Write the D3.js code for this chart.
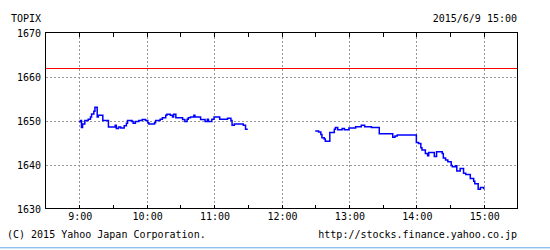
<!DOCTYPE html>
<html>
<head>
<meta charset="utf-8">
<script src="https://cdn.jsdelivr.net/npm/d3@7"></script>
<style>
  html, body { margin: 0; padding: 0; background: #fff; }
  svg text { font-family: "DejaVu Sans Mono", "Liberation Mono", monospace; font-size: 10px; fill: #000; }
</style>
</head>
<body>
<div id="chart"></div>
<script>
// TOPIX intraday, 2015/6/9
const title = 'TOPIX';
const stamp = '2015/6/9 15:00';
const copyright = '(C) 2015 Yahoo Japan Corporation.';
const site = 'http://stocks.finance.yahoo.co.jp';

const prevClose = 1662;

const yTicks = [1630, 1640, 1650, 1660, 1670];
const hourLabels = ['9:00', '10:00', '11:00', '12:00', '13:00', '14:00', '15:00'];
const halfHourTicks = ['8:30', '9:00', '9:30', '10:00', '10:30', '11:00', '11:30', '12:00',
  '12:30', '13:00', '13:30', '14:00', '14:30', '15:00', '15:30'];

// morning session
const amTimes = ['9:00', '9:01', '9:02', '9:03', '9:05', '9:08', '9:10', '9:11', '9:13', '9:14',
  '9:16', '9:17', '9:21', '9:26', '9:32', '9:33', '9:35', '9:37', '9:40', '9:42', '9:43',
  '9:47', '9:48', '9:50', '9:53', '9:56', '9:59', '10:01', '10:02', '10:07', '10:08',
  '10:12', '10:14', '10:17', '10:18', '10:21', '10:23', '10:24', '10:26', '10:32', '10:34',
  '10:36', '10:37', '10:39', '10:42', '10:43', '10:48', '10:52', '10:54', '10:55', '10:58',
  '11:00', '11:05', '11:12', '11:15', '11:16', '11:18', '11:26', '11:28', '11:30'];
const amValues = [1649.7, 1650.0, 1648.4, 1649.2, 1650.0, 1650.3, 1650.8, 1651.5, 1652.1, 1653.0,
  1650.8, 1651.2, 1650.0, 1648.5, 1648.9, 1648.2, 1648.5, 1648.3, 1648.8, 1649.4, 1650.0,
  1649.8, 1649.4, 1649.8, 1650.0, 1650.2, 1650.0, 1649.5, 1649.2, 1649.5, 1650.0,
  1650.3, 1650.6, 1651.2, 1651.4, 1651.2, 1650.8, 1651.4, 1650.6, 1650.2, 1649.8,
  1650.3, 1650.6, 1650.8, 1651.2, 1650.8, 1650.2, 1649.8, 1650.3, 1649.8, 1650.3,
  1650.8, 1650.3, 1650.5, 1650.0, 1648.9, 1649.2, 1648.9, 1648.0, 1648.0];

// afternoon session
const pmTimes = ['12:30', '12:33', '12:35', '12:36', '12:38', '12:39', '12:43', '12:47', '12:48',
  '12:50', '12:54', '12:56', '13:00', '13:06', '13:11', '13:14', '13:20', '13:27', '13:39',
  '13:41', '13:43', '14:00', '14:02', '14:04', '14:05', '14:08', '14:10', '14:11', '14:16',
  '14:18', '14:23', '14:24', '14:26', '14:28', '14:31', '14:32', '14:35', '14:36', '14:39',
  '14:42', '14:44', '14:48', '14:51', '14:52', '14:55', '14:57', '14:59', '15:00'];
const pmValues = [1647.6, 1647.4, 1646.8, 1646.1, 1645.8, 1645.3, 1647.3, 1648.0, 1648.4,
  1647.9, 1648.2, 1647.9, 1648.3, 1648.6, 1648.9, 1648.6, 1648.4, 1647.0, 1646.2,
  1646.5, 1646.7, 1645.0, 1644.8, 1643.8, 1643.3, 1642.5, 1642.0, 1642.7, 1641.8,
  1642.9, 1642.5, 1641.5, 1641.0, 1640.6, 1639.8, 1639.5, 1639.7, 1638.5, 1639.1,
  1638.0, 1637.7, 1636.8, 1636.2, 1635.6, 1634.4, 1634.8, 1634.8, 1634.4];

const W = 550, H = 250;
const plotL = 45.5, plotR = 517.5, plotT = 32.5, plotB = 208.5;

const toMin = s => {
  const p = s.split(':');
  return +p[0] * 60 + +p[1];
};

const x = d3.scaleLinear().domain([toMin('8:30'), toMin('15:30')]).range([plotL, plotR]);
const y = d3.scaleLinear().domain([1630, 1670]).range([plotB, plotT]);

const svg = d3.select('#chart').append('svg')
  .attr('width', W)
  .attr('height', H);

// grid
const grid = svg.append('g')
  .attr('stroke', '#999')
  .attr('stroke-dasharray', '2,2')
  .attr('shape-rendering', 'crispEdges');

grid.selectAll('.vg')
  .data(hourLabels)
  .enter()
  .append('line')
  .attr('x1', d => Math.round(x(toMin(d))) + 0.5)
  .attr('x2', d => Math.round(x(toMin(d))) + 0.5)
  .attr('y1', plotT)
  .attr('y2', plotB);

grid.selectAll('.hg')
  .data(yTicks.slice(1, -1))
  .enter()
  .append('line')
  .attr('x1', plotL)
  .attr('x2', plotR)
  .attr('y1', d => Math.round(y(d)) + 0.5)
  .attr('y2', d => Math.round(y(d)) + 0.5);

// half hour ticks, top and bottom
const ticks = svg.append('g')
  .attr('stroke', '#000')
  .attr('shape-rendering', 'crispEdges');

ticks.selectAll('.tt')
  .data(halfHourTicks.slice(1, -1))
  .enter()
  .append('line')
  .attr('x1', d => Math.round(x(toMin(d))) + 0.5)
  .attr('x2', d => Math.round(x(toMin(d))) + 0.5)
  .attr('y1', plotT)
  .attr('y2', plotT + 4);

ticks.selectAll('.bt')
  .data(halfHourTicks.slice(1, -1))
  .enter()
  .append('line')
  .attr('x1', d => Math.round(x(toMin(d))) + 0.5)
  .attr('x2', d => Math.round(x(toMin(d))) + 0.5)
  .attr('y1', plotB - 4)
  .attr('y2', plotB);

// previous close
svg.append('line')
  .attr('x1', plotL)
  .attr('x2', plotR)
  .attr('y1', Math.round(y(prevClose)) + 0.5)
  .attr('y2', Math.round(y(prevClose)) + 0.5)
  .attr('stroke', '#ff0000')
  .attr('shape-rendering', 'crispEdges');

// price
const line = d3.line()
  .x(d => x(toMin(d[0])))
  .y(d => y(d[1]))
  .curve(d3.curveStepAfter);

const sessions = [d3.zip(amTimes, amValues), d3.zip(pmTimes, pmValues)];

svg.selectAll('.price')
  .data(sessions)
  .enter()
  .append('path')
  .attr('class', 'price')
  .attr('d', line)
  .attr('fill', 'none')
  .attr('stroke', '#0000ff')
  .attr('stroke-width', 1.5);

// frame
svg.append('rect')
  .attr('x', plotL)
  .attr('y', plotT)
  .attr('width', plotR - plotL)
  .attr('height', plotB - plotT)
  .attr('fill', 'none')
  .attr('stroke', '#000')
  .attr('shape-rendering', 'crispEdges');

// labels
svg.selectAll('.yl')
  .data(yTicks)
  .enter()
  .append('text')
  .attr('x', 41)
  .attr('y', d => y(d) + 4)
  .attr('text-anchor', 'end')
  .text(d => d);

svg.selectAll('.xl')
  .data(hourLabels)
  .enter()
  .append('text')
  .attr('x', d => x(toMin(d)) + 1)
  .attr('y', 220)
  .attr('text-anchor', 'middle')
  .text(d => d);

svg.append('text').attr('x', 11).attr('y', 22).text(title);
svg.append('text').attr('x', 517).attr('y', 22).attr('text-anchor', 'end').text(stamp);
svg.append('text').attr('x', 7).attr('y', 238).text(copyright);
svg.append('text').attr('x', 517).attr('y', 238).attr('text-anchor', 'end').text(site);

// bottom rule
svg.append('rect')
  .attr('x', 0)
  .attr('y', 247)
  .attr('width', W)
  .attr('height', 1)
  .attr('fill', '#8cc0f0');
svg.append('rect')
  .attr('x', 0)
  .attr('y', 248)
  .attr('width', W)
  .attr('height', 1)
  .attr('fill', '#d2e6fa');
</script>
</body>
</html>
